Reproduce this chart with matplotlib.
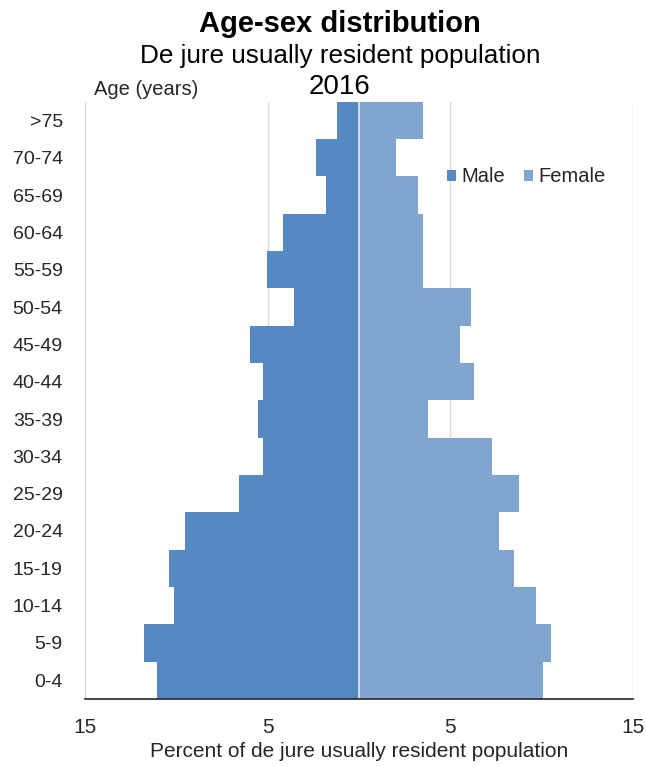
import matplotlib
matplotlib.use("Agg")
import matplotlib.pyplot as plt
import numpy as np

plt.rcParams['font.family'] = ['Liberation Sans', 'DejaVu Sans']

age_groups = ["0-4", "5-9", "10-14", "15-19", "20-24", "25-29", "30-34", "35-39",
              "40-44", "45-49", "50-54", "55-59", "60-64", "65-69", "70-74", ">75"]
male = [11.05, 11.76, 10.15, 10.40, 9.53, 6.58, 5.24, 5.53,
        5.24, 5.95, 3.58, 5.04, 4.18, 1.82, 2.36, 1.18]
female = [10.06, 10.50, 9.66, 8.46, 7.64, 8.73, 7.28, 3.76,
          6.27, 5.51, 6.15, 3.49, 3.49, 3.22, 2.02, 3.49]
xtick_vals = [-15, -5, 5, 15]
xtick_labels = ["15", "5", "5", "15"]

male_color = "#5589C1"
female_color = "#80A6CF"

fig = plt.figure(figsize=(6.46, 7.67), dpi=100)
ax = fig.add_axes([0.1316, 0.0887, 0.98 - 0.1316, 0.8674 - 0.0887])

y = np.arange(len(age_groups))
ax.barh(y, [-v for v in male], height=1.0, color=male_color, edgecolor="none",
        linewidth=0, label="Male", zorder=2)
ax.barh(y, female, height=1.0, color=female_color, edgecolor="none",
        linewidth=0, label="Female", zorder=2)
ax.axvline(0, color="white", linewidth=1.2, alpha=0.8, zorder=3)

ax.set_xlim(-15, 15)
ax.set_ylim(-0.5, len(age_groups) - 0.5)
ax.set_xticks(xtick_vals)
ax.set_xticklabels(xtick_labels, fontsize=15)
ax.set_yticks(y)
ax.set_yticklabels(age_groups, fontsize=14)
ax.tick_params(axis='both', length=0, colors="#262626")
ax.tick_params(axis='y', pad=16)
ax.tick_params(axis='x', pad=14)
ax.grid(axis='x', color="#D9D9D9", linewidth=1.0, zorder=0)
ax.set_axisbelow(True)
for s in ["top", "right", "left"]:
    ax.spines[s].set_visible(False)
ax.spines["bottom"].set_color("#262626")
ax.spines["bottom"].set_linewidth(1.2)
ax.spines["bottom"].set_zorder(3)

ax.set_xlabel("Percent of de jure usually resident population", fontsize=15,
              color="#262626", labelpad=3)

leg = ax.legend(loc="center", bbox_to_anchor=(0.805, 0.874), ncol=2, frameon=False,
                fontsize=14.5, handlelength=0.45, handleheight=0.45,
                handletextpad=0.3, columnspacing=0.9, borderaxespad=0)
for t in leg.get_texts():
    t.set_color("#262626")

fig.text(0.526, 1 - 31.7 / 767, "Age-sex distribution", ha="center", va="baseline",
         fontsize=21, fontweight="bold", color="black")
fig.text(0.526, 1 - 63.3 / 767, "De jure usually resident population", ha="center",
         va="baseline", fontsize=18.8, color="black")
fig.text(0.526, 1 - 93.5 / 767, "2016", ha="center", va="baseline", fontsize=20,
         color="black")
fig.text(146 / 646, 1 - 95 / 767, "Age (years)", ha="center", va="baseline",
         fontsize=14.5, color="#262626")

fig.savefig("out.png", dpi=100)
